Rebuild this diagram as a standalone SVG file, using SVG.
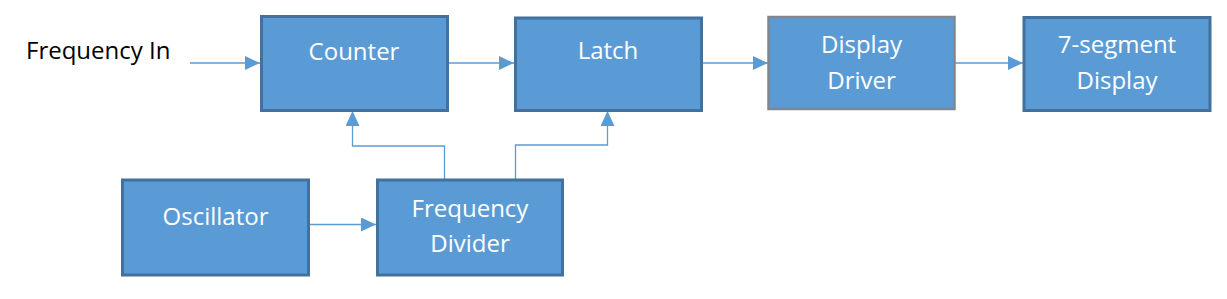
<svg xmlns="http://www.w3.org/2000/svg" width="1227" height="299" viewBox="0 0 1227 299">
<style>
.box{fill:#5B9BD5;stroke:#41719C;stroke-width:3}
.box2{fill:#5B9BD5;stroke:#7F8790;stroke-width:2.5}
.t{font-family:"Open Sans","Liberation Sans",sans-serif;font-size:24px;fill:#fff;text-anchor:middle}
.lbl{font-family:"Open Sans","Liberation Sans",sans-serif;font-size:24px;fill:#000}
.c{fill:none;stroke:#5B9BD5;stroke-width:1.3}
</style>
<defs>
<marker id="ah" viewBox="0 0 15 14" refX="15" refY="7" markerWidth="15" markerHeight="14" markerUnits="userSpaceOnUse" orient="auto">
<path d="M0,0 L15,7 L0,14 Z" fill="#5B9BD5"/>
</marker>
</defs>
<rect width="1227" height="299" fill="#fff"/>
<text class="lbl" x="26" y="59">Frequency In</text>
<g id="connectors">
<line class="c" x1="190" y1="63" x2="260" y2="63" marker-end="url(#ah)"/>
<line class="c" x1="447" y1="63" x2="514" y2="63" marker-end="url(#ah)"/>
<line class="c" x1="701" y1="63" x2="768" y2="63" marker-end="url(#ah)"/>
<line class="c" x1="955" y1="63" x2="1023" y2="63" marker-end="url(#ah)"/>
<line class="c" x1="309" y1="224.5" x2="376" y2="224.5" marker-end="url(#ah)"/>
<polyline class="c" points="444.5,179 444.5,146 352.5,146 352.5,111" marker-end="url(#ah)"/>
<polyline class="c" points="515.5,179 515.5,145 607.5,145 607.5,111" marker-end="url(#ah)"/>
</g>
<g id="counter"><rect class="box" x="261.5" y="16.5" width="186" height="94"/><text class="t" x="354" y="60">Counter</text></g>
<g id="latch"><rect class="box" x="515.5" y="18" width="186" height="92.5"/><text class="t" x="608" y="59">Latch</text></g>
<g id="driver"><rect class="box2" x="768.5" y="17" width="186" height="92"/><text class="t" x="861.5" y="53">Display</text><text class="t" x="861.5" y="89">Driver</text></g>
<g id="seg"><rect class="box" x="1024" y="17.5" width="186" height="93"/><text class="t" x="1117" y="53">7-segment</text><text class="t" x="1117" y="89">Display</text></g>
<g id="osc"><rect class="box" x="122.5" y="180" width="186" height="95"/><text class="t" x="215.5" y="225">Oscillator</text></g>
<g id="divider"><rect class="box" x="377.5" y="180" width="185" height="95"/><text class="t" x="470" y="217">Frequency</text><text class="t" x="470" y="252">Divider</text></g>
</svg>
